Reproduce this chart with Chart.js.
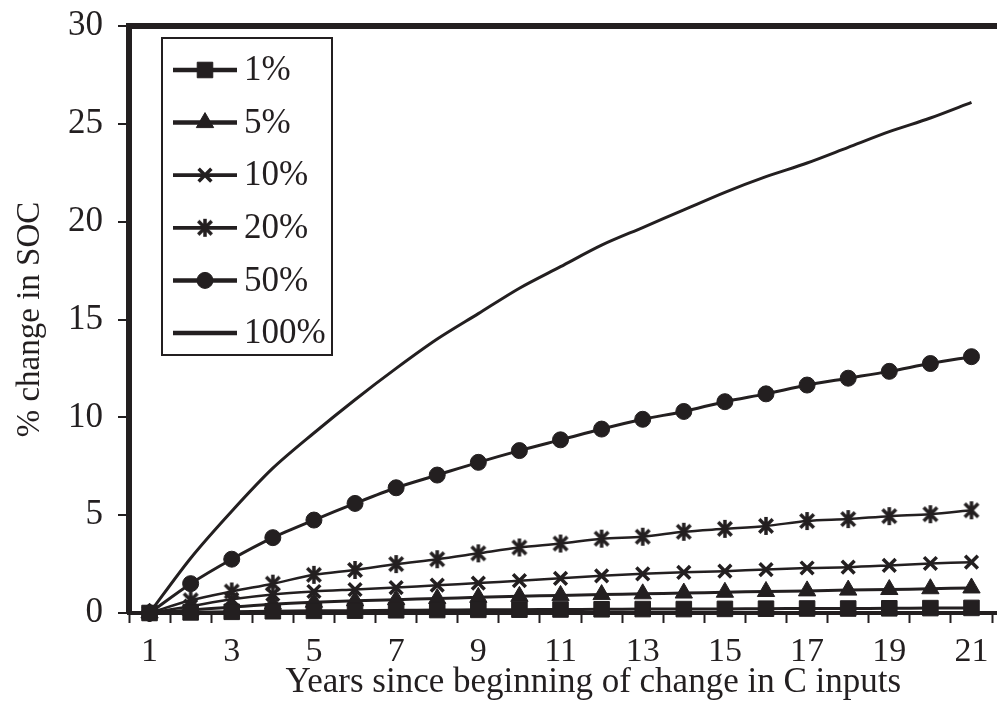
<!DOCTYPE html>
<html>
<head>
<meta charset="utf-8">
<title>% change in SOC</title>
<script src="https://cdn.jsdelivr.net/npm/chart.js"></script>
<style>
    html, body { margin: 0; padding: 0; background: #fff; overflow: hidden; }
    #wrap { position: relative; width: 1070px; height: 720px; }
</style>
</head>
<body>
<div id="wrap"><canvas id="soc-chart" width="1070" height="720"></canvas></div>
<script>
var years = [1, 2, 3, 4, 5, 6, 7, 8, 9, 10, 11, 12, 13, 14, 15, 16, 17, 18, 19, 20, 21];
var seriesNames = ['1%', '5%', '10%', '20%', '50%', '100%'];
var soc1 = [0, 0.03, 0.06, 0.09, 0.11, 0.12, 0.14, 0.15, 0.16, 0.17, 0.18, 0.19, 0.2, 0.2, 0.21, 0.22, 0.23, 0.23, 0.24, 0.25, 0.26];
var soc5 = [0, 0.15, 0.3, 0.45, 0.55, 0.62, 0.68, 0.74, 0.8, 0.85, 0.9, 0.94, 0.98, 1.02, 1.06, 1.1, 1.13, 1.17, 1.2, 1.24, 1.28];
var soc10 = [0, 0.35, 0.7, 0.95, 1.1, 1.2, 1.3, 1.42, 1.53, 1.65, 1.77, 1.9, 2.0, 2.08, 2.14, 2.22, 2.3, 2.34, 2.43, 2.53, 2.6];
var soc20 = [0, 0.65, 1.1, 1.5, 1.95, 2.2, 2.5, 2.75, 3.05, 3.35, 3.55, 3.8, 3.9, 4.15, 4.3, 4.45, 4.7, 4.8, 4.95, 5.05, 5.25];
var soc50 = [0, 1.5, 2.75, 3.85, 4.75, 5.6, 6.4, 7.05, 7.7, 8.3, 8.85, 9.4, 9.9, 10.3, 10.8, 11.2, 11.65, 12.0, 12.35, 12.75, 13.1];
var soc100 = [0, 2.8, 5.2, 7.4, 9.2, 10.9, 12.5, 14.0, 15.3, 16.6, 17.7, 18.8, 19.7, 20.6, 21.5, 22.3, 23.0, 23.8, 24.6, 25.3, 26.1];
var yTicks = [0, 5, 10, 15, 20, 25, 30];

var INK = '#231f20';
var FONT = 'Liberation Serif';

// asterisk marker: an X with a vertical bar through it
function makeAsterisk(r, lw) {
    var c = document.createElement('canvas');
    var s = Math.ceil(2 * r + lw);
    c.width = s;
    c.height = s;
    var g = c.getContext('2d');
    var m = s / 2;
    var d = r * 0.75;
    g.strokeStyle = INK;
    g.lineWidth = lw;
    g.beginPath();
    g.moveTo(m - d, m - d); g.lineTo(m + d, m + d);
    g.moveTo(m + d, m - d); g.lineTo(m - d, m + d);
    g.moveTo(m, m - r); g.lineTo(m, m + r);
    g.stroke();
    return c;
}

function points(values) {
    return values.map(function (v, i) {
        return { x: years[i], y: v };
    });
}

function series(idx, values, style, radius, width) {
    return {
        label: seriesNames[idx],
        data: points(values),
        borderColor: INK,
        backgroundColor: INK,
        borderWidth: width,
        pointStyle: style,
        pointRadius: radius,
        pointHoverRadius: radius,
        pointBorderWidth: style === 'crossRot' ? 3.5 : 1,
        pointBackgroundColor: INK,
        pointBorderColor: INK,
        tension: 0.3,
        clip: false
    };
}

var datasets = [
    series(0, soc1, 'rect', 11, 3),
    series(1, soc5, 'triangle', 10, 3),
    series(2, soc10, 'crossRot', 9, 2.5),
    series(3, soc20, makeAsterisk(9, 3.5), 10, 2.5),
    series(4, soc50, 'circle', 8, 3),
    series(5, soc100, false, 0, 3)
];

var PX_PER_YEAR = 41.65;
var AREA_LEFT = 129;
var AREA_TOP = 26;
var AREA_BOTTOM = 613;
var X_MIN = 0.5;
var X_MAX = X_MIN + (1070 - AREA_LEFT) / PX_PER_YEAR;

// boxed legend inside the plot: line sample with the marker in its middle
var boxedLegend = {
    id: 'boxedLegend',
    afterDatasetsDraw: function (chart) {
        var ctx = chart.ctx;
        var left = 162, top = 38, w = 170, h = 317;
        var rowTop = 70, rowGap = 52.6;
        ctx.save();
        ctx.fillStyle = '#fff';
        ctx.fillRect(left, top, w, h);
        ctx.strokeStyle = INK;
        ctx.lineWidth = 2;
        ctx.strokeRect(left, top, w, h);
        chart.data.datasets.forEach(function (ds, i) {
            var y = rowTop + i * rowGap;
            ctx.strokeStyle = INK;
            ctx.lineWidth = ds.borderWidth * 1.5;
            ctx.beginPath();
            ctx.moveTo(173, y);
            ctx.lineTo(237, y);
            ctx.stroke();
            if (ds.pointStyle && ds.pointRadius > 0 && Chart.helpers && Chart.helpers.drawPoint) {
                ctx.fillStyle = INK;
                ctx.lineWidth = ds.pointBorderWidth;
                Chart.helpers.drawPoint(ctx, {
                    pointStyle: ds.pointStyle,
                    radius: ds.pointRadius,
                    rotation: 0,
                    borderWidth: ds.pointBorderWidth
                }, 205, y);
            }
            ctx.fillStyle = INK;
            ctx.font = '35px "' + FONT + '"';
            ctx.textAlign = 'left';
            ctx.textBaseline = 'middle';
            ctx.fillText(ds.label, 244, y + 1);
        });
        ctx.restore();
    }
};

new Chart(document.getElementById('soc-chart'), {
    type: 'line',
    data: { datasets: datasets },
    plugins: [boxedLegend],
    options: {
        responsive: false,
        animation: false,
        events: [],
        layout: { padding: { top: AREA_TOP, right: 0, left: 0, bottom: 0 } },
        plugins: {
            legend: { display: false },
            tooltip: { enabled: false }
        },
        scales: {
            x: {
                type: 'linear',
                position: 'bottom',
                min: X_MIN,
                max: X_MAX,
                afterBuildTicks: function (scale) {
                    var t = [];
                    for (var v = 0.5; v <= 21.5; v += 0.5) t.push({ value: v });
                    scale.ticks = t;
                },
                afterFit: function (scale) { scale.height = 720 - AREA_BOTTOM; },
                ticks: {
                    autoSkip: false,
                    maxRotation: 0,
                    minRotation: 0,
                    padding: 9,
                    color: INK,
                    font: { family: FONT, size: 34 },
                    callback: function (v) {
                        return (Number.isInteger(v) && v % 2 === 1) ? String(v) : '';
                    }
                },
                grid: {
                    drawOnChartArea: false,
                    drawTicks: true,
                    tickLength: 10,
                    tickWidth: 2,
                    tickColor: function (c) {
                        return Number.isInteger(c.tick && c.tick.value) ? 'rgba(0,0,0,0)' : INK;
                    }
                },
                border: { display: true, width: 4, color: INK },
                title: {
                    display: true,
                    text: 'Years since beginning of change in C inputs',
                    color: INK,
                    font: { family: FONT, size: 35 },
                    padding: { top: 0, bottom: 16 }
                }
            },
            xTop: {
                type: 'linear',
                axis: 'x',
                position: 'top',
                min: X_MIN,
                max: X_MAX,
                afterFit: function (scale) { scale.height = 0; },
                ticks: { display: false },
                grid: { display: false, drawTicks: false },
                border: { display: true, width: 6, color: INK }
            },
            y: {
                min: 0,
                max: 30,
                afterBuildTicks: function (scale) {
                    scale.ticks = yTicks.map(function (v) { return { value: v }; });
                },
                afterFit: function (scale) {
                    scale.width = AREA_LEFT;
                    // the "30" label may overhang the top edge
                    scale.paddingTop = 0;
                },
                ticks: {
                    padding: 15,
                    color: INK,
                    font: { family: FONT, size: 35 }
                },
                grid: {
                    drawOnChartArea: false,
                    drawTicks: true,
                    tickLength: 11,
                    lineWidth: 2,
                    color: INK
                },
                border: { display: true, width: 6, color: INK },
                title: {
                    display: true,
                    text: '% change in SOC',
                    color: INK,
                    font: { family: FONT, size: 33 },
                    padding: { top: 11, bottom: 0 }
                }
            }
        }
    }
});
</script>
</body>
</html>
